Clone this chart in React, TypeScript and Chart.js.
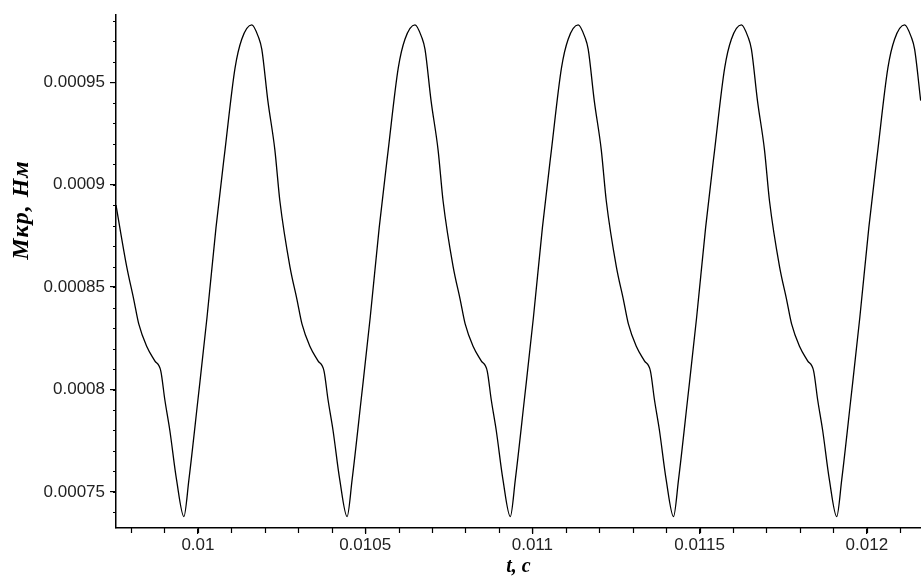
import { useEffect, useRef } from "react";
import { Chart, registerables } from "chart.js";

Chart.register(...registerables);

// time, s
const timeS = [
  0.009755, 0.009787, 0.009808, 0.009823, 0.009847, 0.009871, 0.009889, 0.009901, 0.009916, 0.009936,
  0.009958, 0.009973, 0.010000, 0.010027, 0.010054, 0.010081, 0.010111, 0.010131, 0.010161, 0.010181, 0.010191, 0.010209,
  0.010230, 0.010245, 0.010275, 0.010296, 0.010311, 0.010335, 0.010359, 0.010377, 0.010389, 0.010404, 0.010424,
  0.010446, 0.010461, 0.010488, 0.010515, 0.010542, 0.010569, 0.010599, 0.010619, 0.010649, 0.010669, 0.010679, 0.010697,
  0.010718, 0.010733, 0.010763, 0.010784, 0.010799, 0.010823, 0.010847, 0.010865, 0.010877, 0.010892, 0.010912,
  0.010934, 0.010949, 0.010976, 0.011003, 0.011030, 0.011057, 0.011087, 0.011107, 0.011137, 0.011157, 0.011167, 0.011185,
  0.011206, 0.011221, 0.011251, 0.011272, 0.011287, 0.011311, 0.011335, 0.011353, 0.011365, 0.011380, 0.011400,
  0.011422, 0.011437, 0.011464, 0.011491, 0.011518, 0.011545, 0.011575, 0.011595, 0.011625, 0.011645, 0.011655, 0.011673,
  0.011694, 0.011709, 0.011739, 0.011760, 0.011775, 0.011799, 0.011823, 0.011841, 0.011853, 0.011868, 0.011888,
  0.011910, 0.011925, 0.011952, 0.011979, 0.012006, 0.012033, 0.012063, 0.012083, 0.012113, 0.012133, 0.012143, 0.012161,
];

// torque Mкр, N·m
const torqueNm = [
  0.000890, 0.000860, 0.000844, 0.000832, 0.000821, 0.000814, 0.000809, 0.000795, 0.000780, 0.000756,
  0.000738, 0.000756, 0.000795, 0.000835, 0.000879, 0.000917, 0.000957, 0.000971, 0.000978, 0.000972, 0.000966, 0.000941,
  0.000917, 0.000892, 0.000860, 0.000844, 0.000832, 0.000821, 0.000814, 0.000809, 0.000795, 0.000780, 0.000756,
  0.000738, 0.000756, 0.000795, 0.000835, 0.000879, 0.000917, 0.000957, 0.000971, 0.000978, 0.000972, 0.000966, 0.000941,
  0.000917, 0.000892, 0.000860, 0.000844, 0.000832, 0.000821, 0.000814, 0.000809, 0.000795, 0.000780, 0.000756,
  0.000738, 0.000756, 0.000795, 0.000835, 0.000879, 0.000917, 0.000957, 0.000971, 0.000978, 0.000972, 0.000966, 0.000941,
  0.000917, 0.000892, 0.000860, 0.000844, 0.000832, 0.000821, 0.000814, 0.000809, 0.000795, 0.000780, 0.000756,
  0.000738, 0.000756, 0.000795, 0.000835, 0.000879, 0.000917, 0.000957, 0.000971, 0.000978, 0.000972, 0.000966, 0.000941,
  0.000917, 0.000892, 0.000860, 0.000844, 0.000832, 0.000821, 0.000814, 0.000809, 0.000795, 0.000780, 0.000756,
  0.000738, 0.000756, 0.000795, 0.000835, 0.000879, 0.000917, 0.000957, 0.000971, 0.000978, 0.000972, 0.000966, 0.000941,
];

const xTickValues = [0.01, 0.0105, 0.011, 0.0115, 0.012];
const xTickLabels = ["0.01", "0.0105", "0.011", "0.0115", "0.012"];
const yTickValues = [0.00075, 0.0008, 0.00085, 0.0009, 0.00095];
const yTickLabels = ["0.00075", "0.0008", "0.00085", "0.0009", "0.00095"];

const xRange = [0.009755, 0.012162];
const yRange = [0.0007324, 0.0009827];
const xMinorStepUnits = 1; // 0.0001 s
const yMinorStepUnits = 1; // 0.00001 N·m

const yTitle = "Мкр, Нм";
const xTitle = "t, c";

export default function App() {
  const canvasRef = useRef<HTMLCanvasElement | null>(null);

  useEffect(() => {
    document.body.style.margin = "0";
    const canvas = canvasRef.current;
    if (!canvas) return;

    const minorTicks = {
      id: "minorTicks",
      afterDraw(chart: any) {
        const ctx = chart.ctx;
        const xs = chart.scales.x;
        const ys = chart.scales.y;
        ctx.save();
        ctx.strokeStyle = "#000";
        ctx.lineWidth = 1.2;
        ctx.beginPath();
        for (let k = Math.ceil(xs.min / 0.0001); k * 0.0001 <= xs.max; k += xMinorStepUnits) {
          const px = Math.round(xs.getPixelForValue(k * 0.0001)) + 0.5;
          ctx.moveTo(px, ys.bottom);
          ctx.lineTo(px, ys.bottom + 5);
        }
        for (let k = Math.ceil(ys.min / 0.00001); k * 0.00001 <= ys.max; k += yMinorStepUnits) {
          const py = Math.round(ys.getPixelForValue(k * 0.00001)) + 0.5;
          ctx.moveTo(xs.left, py);
          ctx.lineTo(xs.left - 3, py);
        }
        ctx.stroke();

        // y axis title
        ctx.fillStyle = "#000";
        ctx.font = 'bold italic 24px "Liberation Serif", "DejaVu Serif", serif';
        (ctx as any).letterSpacing = "1px";
        ctx.textAlign = "center";
        ctx.textBaseline = "middle";
        ctx.translate(22, 210);
        ctx.rotate(-Math.PI / 2);
        ctx.fillText(yTitle, 0, 0);
        ctx.restore();
      },
    };

    const chart = new Chart(canvas, {
      type: "line",
      data: {
        datasets: [
          {
            label: "Mkr",
            data: timeS.map((t, i) => ({ x: t, y: torqueNm[i] })),
            borderColor: "#000",
            borderWidth: 1.3,
            pointRadius: 0,
            fill: false,
            cubicInterpolationMode: "monotone",
          },
        ],
      },
      options: {
        animation: false,
        responsive: false,
        devicePixelRatio: 1,
        layout: { padding: { left: 0, right: 0, top: 15, bottom: 0 } },
        plugins: { legend: { display: false }, tooltip: { enabled: false } },
        scales: {
          x: {
            type: "linear",
            min: xRange[0],
            max: xRange[1],
            afterBuildTicks: (s: any) => {
              s.ticks = xTickValues.map((v) => ({ value: v }));
            },
            afterFit: (s: any) => {
              s.height = 52;
            },
            grid: { display: true, drawOnChartArea: false, drawTicks: true, tickLength: 6, color: "#000", lineWidth: 1.2 },
            border: { display: true, color: "#000", width: 1.5 },
            ticks: {
              autoSkip: false,
              maxRotation: 0,
              padding: 1,
              color: "#222",
              font: { family: '"Liberation Sans", Arial, sans-serif', size: 17 },
              callback: (_v: any, i: number) => xTickLabels[i],
            },
            title: {
              display: true,
              text: xTitle,
              color: "#000",
              font: { family: '"Liberation Serif", "DejaVu Serif", serif', size: 20, style: "italic", weight: "bold" },
              padding: { top: 0, bottom: 1 },
            },
          },
          y: {
            type: "linear",
            min: yRange[0],
            max: yRange[1],
            afterBuildTicks: (s: any) => {
              s.ticks = yTickValues.map((v) => ({ value: v }));
            },
            afterFit: (s: any) => {
              s.width = 116;
            },
            grid: { display: true, drawOnChartArea: false, drawTicks: true, tickLength: 6, color: "#000", lineWidth: 1.2 },
            border: { display: true, color: "#000", width: 1.5 },
            ticks: {
              autoSkip: false,
              padding: 5,
              color: "#222",
              font: { family: '"Liberation Sans", Arial, sans-serif', size: 17 },
              callback: (_v: any, i: number) => yTickLabels[i],
            },
          },
        },
      },
      plugins: [minorTicks],
    });

    return () => chart.destroy();
  }, []);

  return (
    <div style={{ position: "relative", width: 921, height: 580 }}>
      <canvas ref={canvasRef} width={921} height={580} />
    </div>
  );
}
